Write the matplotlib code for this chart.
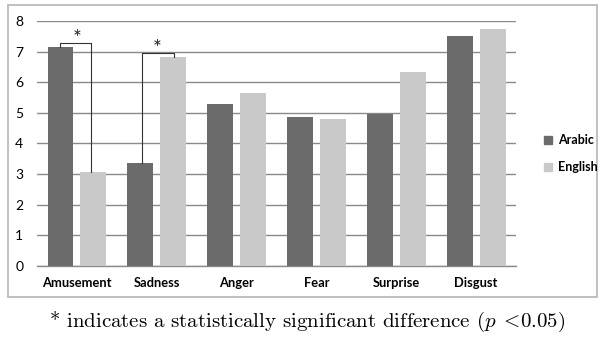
import numpy as np
import matplotlib.pyplot as plt
from matplotlib.lines import Line2D
from matplotlib.patches import Rectangle

categories = ['Amusement', 'Sadness', 'Anger', 'Fear', 'Surprise', 'Disgust']
arabic = [7.15, 3.37, 5.30, 4.85, 4.95, 7.50]
english = [3.08, 6.82, 5.65, 4.80, 6.33, 7.73]
yticks = [0, 1, 2, 3, 4, 5, 6, 7, 8]
caption = r'* indicates a statistically significant difference ($p\;\mathrm{<}\!$0.05)'

dark = '#6b6b6b'
light = '#c9c9c9'
grid = '#8a8a8a'

plt.rcParams['font.family'] = ['Lato', 'DejaVu Sans']
plt.rcParams['mathtext.fontset'] = 'cm'

fig = plt.figure(figsize=(6.01, 3.38), dpi=100)
fig.patches.append(Rectangle((0.0133, 0.121), 0.98, 0.864, transform=fig.transFigure,
                             fill=False, edgecolor='#b5b5b5', linewidth=1.2))
ax = fig.add_axes([0.0616, 0.213, 0.797, 0.725])

x = np.arange(len(categories))
w = 0.325
off = 0.206
ax.bar(x - off, arabic, w, color=dark, zorder=3, label='Arabic')
ax.bar(x + off, english, w, color=light, zorder=3, label='English')

ax.set_ylim(0, 8)
ax.set_xlim(-0.5, len(categories) - 0.5)
ax.set_yticks(yticks)
ax.set_yticklabels([str(t) for t in yticks], fontsize=10)
ax.set_xticks(x)
ax.set_xticklabels(categories, fontsize=9.3, fontweight='bold')
ax.yaxis.grid(True, color=grid, linewidth=1.0, zorder=0)
ax.tick_params(axis='y', length=0, pad=10)
ax.tick_params(axis='x', length=0, pad=8)
for s in ['left', 'right', 'top']:
    ax.spines[s].set_visible(False)
ax.spines['bottom'].set_color(grid)
ax.spines['bottom'].set_linewidth(1.0)

# significance brackets
lc = '#333333'
ax.plot([0 - 0.21, 0 - 0.21, 0 + 0.18, 0 + 0.18],
        [arabic[0], 7.29, 7.29, english[0]], color=lc, lw=0.8, zorder=4)
ax.text(0, 7.40, '*', ha='center', va='center', fontsize=15, color='#222222')
ax.plot([1 - 0.18, 1 - 0.18, 1 + 0.21, 1 + 0.21],
        [arabic[1], 6.96, 6.96, english[1]], color=lc, lw=0.8, zorder=4)
ax.text(1, 7.07, '*', ha='center', va='center', fontsize=15, color='#222222')

handles = [Line2D([], [], marker='s', linestyle='none', color=dark, markersize=6),
           Line2D([], [], marker='s', linestyle='none', color=light, markersize=6)]
fig.legend(handles, ['Arabic', 'English'], loc='center left',
           bbox_to_anchor=(0.887, 0.545), frameon=False, handlelength=0.6,
           handletextpad=0.5, labelspacing=1.2, prop={'weight': 'bold', 'size': 9})

fig.text(0.511, 0.05, caption, ha='center', va='center', fontsize=15,
         family=['cmr10', 'DejaVu Serif'])

fig.savefig('out.png', dpi=100)
